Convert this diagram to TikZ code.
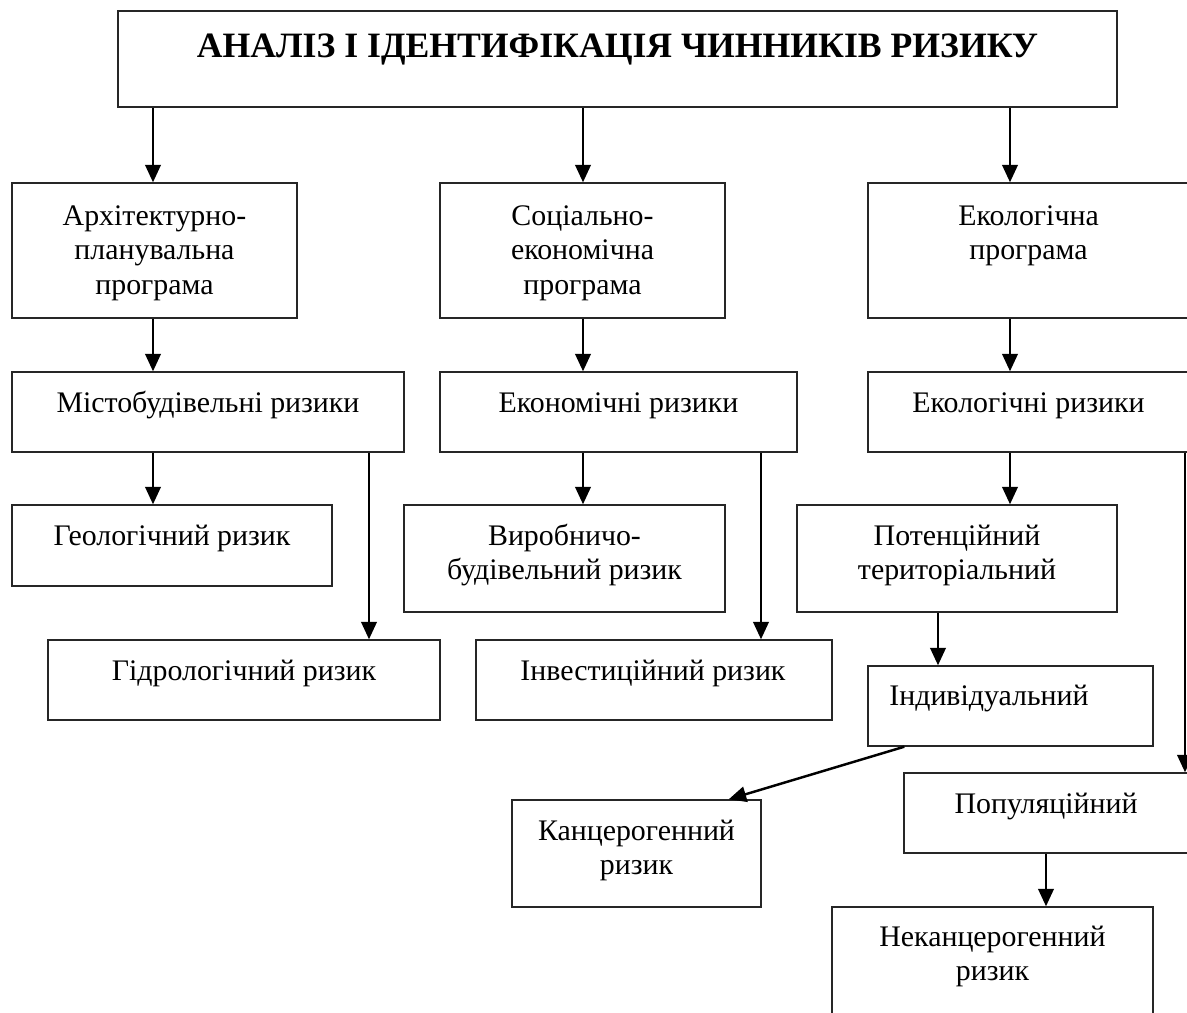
\documentclass[tikz,border=0pt]{standalone}
\usepackage{fontspec}
\setmainfont{Liberation Serif}
\usetikzlibrary{arrows.meta}

\tikzset{
  box/.style={draw=black!85, line width=0.8pt, inner sep=0pt},
  txt/.style={anchor=base, align=center, inner sep=0pt, font=\fontsize{17}{19.6}\selectfont},
  arr/.style={-{Triangle[length=0.35cm,width=0.31cm]}, line width=1.4pt},
}

\begin{document}
\begin{tikzpicture}[x=0.02cm, y=-0.02cm]
\useasboundingbox (0,0) rectangle (1187,1012);
\clip (0,0) rectangle (1187,1012);

% boxes
\node[box, minimum width=19.98cm, minimum height=1.92cm] (top) at (617.5,59) {};
\node[box, minimum width=5.70cm, minimum height=2.70cm] (arch) at (154.5,250.5) {};
\node[box, minimum width=5.70cm, minimum height=2.70cm] (soc) at (582.5,250.5) {};
\node[box, minimum width=6.42cm, minimum height=2.70cm] (eco) at (1028.5,250.5) {};
\node[box, minimum width=7.84cm, minimum height=1.60cm] (mist) at (208,412) {};
\node[box, minimum width=7.14cm, minimum height=1.60cm] (econ) at (618.5,412) {};
\node[box, minimum width=6.42cm, minimum height=1.60cm] (ecol) at (1028.5,412) {};
\node[box, minimum width=6.40cm, minimum height=1.62cm] (geol) at (172,545.5) {};
\node[box, minimum width=6.42cm, minimum height=2.14cm] (vyr) at (564.5,558.5) {};
\node[box, minimum width=6.40cm, minimum height=2.14cm] (pot) at (957,558.5) {};
\node[box, minimum width=7.84cm, minimum height=1.60cm] (hidr) at (244,680) {};
\node[box, minimum width=7.12cm, minimum height=1.60cm] (inv) at (654,680) {};
\node[box, minimum width=5.70cm, minimum height=1.60cm] (ind) at (1010.5,706) {};
\node[box, minimum width=4.98cm, minimum height=2.14cm] (kanc) at (636.5,853.5) {};
\node[box, minimum width=5.70cm, minimum height=1.60cm] (pop) at (1046.5,813) {};
\node[box, minimum width=6.42cm, minimum height=2.24cm] (nekanc) at (992.5,963) {};

% texts (base = last line)
\node[txt, font=\fontsize{20.3}{24}\selectfont\bfseries] (top-t) at (617.5,57) {АНАЛІЗ І ІДЕНТИФІКАЦІЯ ЧИННИКІВ РИЗИКУ};
\node[txt] (arch-t) at (154.5,294) {Архітектурно-\\планувальна\\програма};
\node[txt] (soc-t) at (582.5,294) {Соціально-\\економічна\\програма};
\node[txt] (eco-t) at (1028.5,259.5) {Екологічна\\програма};
\node[txt] (mist-t) at (208,412) {Містобудівельні ризики};
\node[txt] (econ-t) at (618.5,412) {Економічні ризики};
\node[txt] (ecol-t) at (1028.5,412) {Екологічні ризики};
\node[txt] (geol-t) at (172,545) {Геологічний ризик};
\node[txt] (vyr-t) at (564.5,579.5) {Виробничо-\\будівельний ризик};
\node[txt] (pot-t) at (957,579.5) {Потенційний\\територіальний};
\node[txt] (hidr-t) at (244,680) {Гідрологічний ризик};
\node[txt] (inv-t) at (653,680) {Інвестиційний ризик};
\node[txt] (ind-t) at (989,705) {Індивідуальний};
\node[txt] (kanc-t) at (636.5,874.5) {Канцерогенний\\ризик};
\node[txt] (pop-t) at (1046,813) {Популяційний};
\node[txt] (nekanc-t) at (992.5,980.5) {Неканцерогенний\\ризик};

% arrow columns
\coordinate (c1) at (153,0);
\coordinate (c2) at (583,0);
\coordinate (c3) at (1010,0);
\coordinate (c4) at (369,0);
\coordinate (c5) at (761,0);
\coordinate (c6) at (938,0);
\coordinate (c7) at (1185,0);
\coordinate (c8) at (1046,0);

% arrows
\draw[arr] (top.south -| c1) -- (arch.north -| c1);
\draw[arr] (top.south -| c2) -- (soc.north -| c2);
\draw[arr] (top.south -| c3) -- (eco.north -| c3);
\draw[arr] (arch.south -| c1) -- (mist.north -| c1);
\draw[arr] (soc.south -| c2) -- (econ.north -| c2);
\draw[arr] (eco.south -| c3) -- (ecol.north -| c3);
\draw[arr] (mist.south -| c1) -- (geol.north -| c1);
\draw[arr] (mist.south -| c4) -- (hidr.north -| c4);
\draw[arr] (econ.south -| c2) -- (vyr.north -| c2);
\draw[arr] (econ.south -| c5) -- (inv.north -| c5);
\draw[arr] (ecol.south -| c3) -- (pot.north -| c3);
\draw[arr] (ecol.south -| c7) -- (pop.north -| c7);
\draw[arr] (pot.south -| c6) -- (ind.north -| c6);
\draw[arr] ([xshift=0.74cm]ind.south west) -- ([xshift=-0.66cm]kanc.north east);
\draw[arr] (pop.south -| c8) -- (nekanc.north -| c8);
\end{tikzpicture}
\end{document}
